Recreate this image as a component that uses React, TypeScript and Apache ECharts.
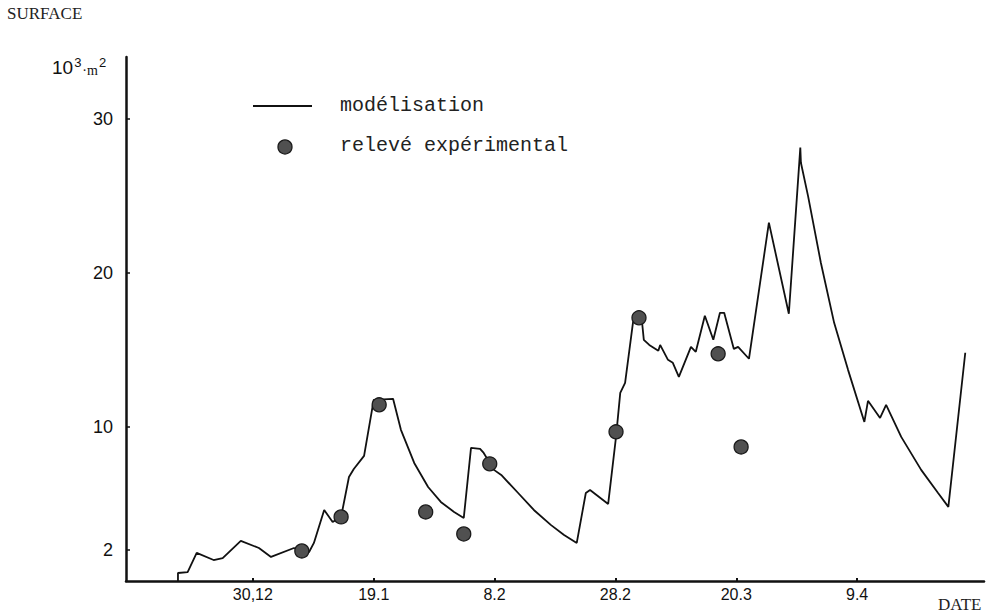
import React, { useEffect, useRef } from "react";
import * as echarts from "echarts";

// Modelled surface (10^3 m^2) vs day offset from 30.12
const modelDays = [
  -12.4, -12.4, -10.8, -9.3, -6.5, -5.0, -2.0, 1.0, 3.0, 6.8, 9.3, 10.1, 11.8, 13.2, 14.6,
  15.9, 16.7, 18.4, 20.0, 23.2, 24.5, 26.7, 29.0, 31.1, 33.3, 34.9, 36.1, 37.6, 38.2, 39.9,
  41.1, 43.9, 46.5, 49.3, 51.5, 53.6, 55.1, 55.8, 58.8, 60.1, 60.8, 61.6, 62.9, 63.4, 64.4,
  64.7, 65.6, 67.1, 67.4, 68.7, 69.5, 70.5, 72.5, 73.3, 74.8, 76.2, 77.3, 78.0, 79.6, 80.3,
  82.1, 85.4, 88.7, 90.6, 90.7, 91.9, 94.0, 96.2, 98.5, 101.2, 101.8, 103.8, 104.8, 107.3,
  110.6, 113.4, 115.1, 117.9,
];
const modelValues = [
  0, 0.52, 0.58, 1.82, 1.36, 1.49, 2.6, 2.14, 1.56, 2.14, 1.88, 2.47, 4.61, 3.83, 4.16,
  6.75, 7.27, 8.12, 11.75, 11.82, 9.81, 7.66, 6.1, 5.13, 4.48, 4.09, 8.64, 8.57, 8.31, 7.21,
  6.88, 5.71, 4.61, 3.64, 2.99, 2.47, 5.71, 5.91, 5.0, 9.35, 12.21, 12.86, 16.75, 17.4, 16.82,
  15.65, 15.32, 14.94, 15.32, 14.35, 14.16, 13.25, 15.19, 14.87, 17.21, 15.65, 17.4, 17.4, 15.06, 15.19,
  14.42, 23.25, 17.34, 28.12, 27.14, 24.94, 20.65, 16.75, 13.7, 10.32, 11.69, 10.58, 11.43, 9.35,
  7.21, 5.71, 4.81, 14.81,
];

// Experimental readings
const obsDays = [8.1, 14.6, 20.9, 28.6, 34.9, 39.2, 60.1, 63.9, 77.0, 80.8];
const obsValues = [1.95, 4.16, 11.43, 4.48, 3.05, 7.6, 9.68, 17.08, 14.74, 8.7];

// Axis ticks
const xTickDays = [0, 20, 40, 60, 80, 100];
const xTickLabels = ["30,12", "19.1", "8.2", "28.2", "20.3", "9.4"];
const yTickValues = [2, 10, 20, 30];

const mono = "'Liberation Mono', 'DejaVu Sans Mono', monospace";
const serif = "'Liberation Serif', 'DejaVu Serif', serif";
const sans = "'Liberation Sans', Arial, sans-serif";

export default function App() {
  const ref = useRef<HTMLDivElement>(null);
  useEffect(() => {
    if (!ref.current) return;
    const chart = echarts.init(ref.current, undefined, { renderer: "svg" });
    const lineData = modelDays.map((d, i) => [d, modelValues[i]]);
    const obsData = obsDays.map((d, i) => [d, obsValues[i]]);
    chart.setOption({
      animation: false,
      backgroundColor: "#ffffff",
      grid: { left: 126, right: 4, top: 57, bottom: 33, containLabel: false },
      xAxis: {
        type: "value",
        min: -21,
        max: 121,
        axisLine: { show: true, onZero: false, lineStyle: { color: "#111", width: 2.5 } },
        axisTick: { show: true, inside: true, length: 3, customValues: xTickDays, lineStyle: { color: "#111", width: 2 } },
        axisLabel: {
          customValues: xTickDays,
          formatter: (v: number) => {
            const i = xTickDays.indexOf(v);
            return i >= 0 ? xTickLabels[i] : "";
          },
          color: "#111",
          fontFamily: sans,
          fontSize: 16,
          margin: 5,
        },
        splitLine: { show: false },
      },
      yAxis: {
        type: "value",
        min: 0,
        max: 34,
        axisLine: { show: true, onZero: false, lineStyle: { color: "#111", width: 2.5 } },
        axisTick: { show: true, inside: true, length: 4, customValues: yTickValues, lineStyle: { color: "#111", width: 1.5 } },
        axisLabel: {
          customValues: yTickValues,
          color: "#111",
          fontFamily: sans,
          fontSize: 18,
          margin: 13,
        },
        splitLine: { show: false },
      },
      series: [
        {
          name: "modélisation",
          type: "line",
          data: lineData,
          symbol: "none",
          lineStyle: { color: "#111", width: 1.8 },
          z: 2,
        },
        {
          name: "relevé expérimental",
          type: "scatter",
          data: obsData,
          symbol: "circle",
          symbolSize: 14,
          itemStyle: { color: "#505050", borderColor: "#1a1a1a", borderWidth: 1.3, opacity: 1 },
          z: 3,
        },
      ],
      graphic: [
        { type: "text", left: 7, top: 5, style: { text: "SURFACE", font: `17px ${serif}`, fill: "#222" } },
        {
          type: "text",
          left: 52,
          top: 56,
          style: {
            text: "{a|10}{s|3}{b|·m}{s|2}",
            rich: {
              a: { fontFamily: sans, fontSize: 19, fill: "#111", verticalAlign: "bottom" },
              s: { fontFamily: sans, fontSize: 13, fill: "#111", verticalAlign: "top", padding: [0, 1, 8, 1] },
              b: { fontFamily: serif, fontSize: 14, fill: "#111", verticalAlign: "bottom" },
            },
          },
        },
        { type: "line", shape: { x1: 253, y1: 106, x2: 312, y2: 106 }, style: { stroke: "#111", lineWidth: 1.8 } },
        { type: "text", left: 340, top: 95, style: { text: "modélisation", font: `20px ${mono}`, fill: "#222" } },
        { type: "circle", shape: { cx: 285, cy: 147, r: 7 }, style: { fill: "#505050", stroke: "#1a1a1a", lineWidth: 1.3 } },
        { type: "text", left: 340, top: 135, style: { text: "relevé expérimental", font: `20px ${mono}`, fill: "#222" } },
        { type: "text", left: 938, top: 596, style: { text: "DATE", font: `17px ${serif}`, fill: "#222" } },
      ],
    });
    return () => chart.dispose();
  }, []);
  return <div ref={ref} style={{ width: 988, height: 614, position: "fixed", left: 0, top: 0 }} />;
}
